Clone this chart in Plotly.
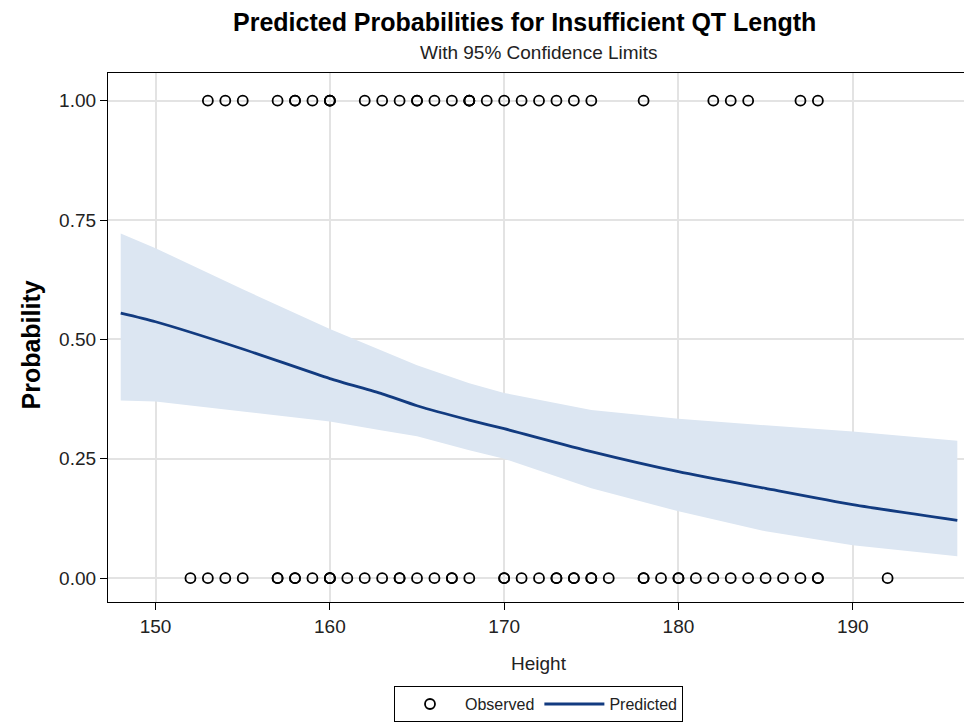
import plotly.graph_objects as go

# Observed outcomes (Height, event 1/0)
obs_height_1 = [153, 154, 155, 157, 158, 158, 159, 160, 160, 160, 162, 163, 164, 165, 165,
                166, 167, 168, 168, 168, 169, 170, 171, 172, 173, 174, 175, 178, 182, 183,
                184, 187, 188]
obs_height_0 = [152, 153, 154, 155, 157, 157, 158, 158, 159, 160, 160, 160, 161, 162, 163,
                164, 164, 165, 166, 167, 167, 168, 170, 170, 171, 172, 173, 173, 174, 174,
                175, 175, 176, 178, 178, 179, 180, 180, 181, 182, 183, 184, 185, 186, 187,
                188, 188, 192]

# Predicted probability curve and 95% confidence limits
fit_height = [148, 150, 155, 160, 163, 165, 168, 170, 175, 180, 185, 190, 196]
fit_pred   = [0.555, 0.537, 0.480, 0.418, 0.386, 0.361, 0.331, 0.313, 0.265, 0.223, 0.188, 0.154, 0.121]
fit_upper  = [0.722, 0.691, 0.605, 0.522, 0.476, 0.446, 0.408, 0.388, 0.352, 0.334, 0.320, 0.307, 0.288]
fit_lower  = [0.372, 0.370, 0.349, 0.328, 0.309, 0.297, 0.268, 0.250, 0.188, 0.140, 0.098, 0.069, 0.046]

x_ticks = [150, 160, 170, 180, 190]
y_ticks = [0.0, 0.25, 0.5, 0.75, 1.0]

FONT = "Liberation Sans, Arial, sans-serif"
BAND = "#dce6f2"
LINE = "#123b80"
TXT = "#222222"

fig = go.Figure()

fig.add_trace(go.Scatter(x=fit_height, y=fit_lower, mode="lines", line=dict(width=0, color=BAND),
                         showlegend=False, hoverinfo="skip"))
fig.add_trace(go.Scatter(x=fit_height, y=fit_upper, mode="lines", line=dict(width=0, color=BAND),
                         fill="tonexty", fillcolor=BAND, showlegend=False, hoverinfo="skip"))

fig.add_trace(go.Scatter(x=obs_height_1 + obs_height_0,
                         y=[1] * len(obs_height_1) + [0] * len(obs_height_0),
                         mode="markers", name="Observed",
                         marker=dict(symbol="circle-open", size=10, color="black",
                                     line=dict(width=1.8, color="black"))))

fig.add_trace(go.Scatter(x=fit_height, y=fit_pred, mode="lines", name="Predicted",
                         line=dict(color=LINE, width=2.8, shape="spline", smoothing=0.6)))

# page body adds an 8px offset, so the figure is sized/margined to compensate
fig.update_layout(
    width=964, height=717,
    margin=dict(l=100, r=3, t=65, b=121),
    paper_bgcolor="white", plot_bgcolor="white",
    font=dict(family=FONT, size=19, color=TXT),
    showlegend=True,
    legend=dict(orientation="h", x=0.5, xanchor="center", y=-0.227, yanchor="bottom",
                bordercolor="black", borderwidth=1, bgcolor="white",
                font=dict(family=FONT, size=16, color=TXT),
                traceorder="normal", itemwidth=60),
    annotations=[
        dict(text="<b>Predicted Probabilities for Insufficient QT Length</b>", xref="paper", yref="paper",
             x=0.484, y=1.0, yshift=51, xanchor="center", yanchor="middle", showarrow=False,
             font=dict(family=FONT, size=25, color="black")),
        dict(text="With 95% Confidence Limits", xref="paper", yref="paper",
             x=0.501, y=1.0, yshift=21, xanchor="center", yanchor="middle", showarrow=False,
             font=dict(family=FONT, size=19, color=TXT)),
        dict(text="<b>Probability</b>", xref="paper", yref="paper", textangle=-90,
             x=0.0, xshift=-78, y=0.5, yshift=-8, xanchor="center", yanchor="middle",
             showarrow=False, font=dict(family=FONT, size=25, color="black")),
    ],
)

fig.update_xaxes(range=[147.27, 196.67], tickvals=x_ticks, ticks="outside", ticklen=7,
                 tickcolor="black", showline=True, linecolor="black", linewidth=1.2, mirror=True,
                 showgrid=True, gridcolor="#e3e3e3", gridwidth=1.5, zeroline=False,
                 tickfont=dict(size=19, color=TXT),
                 title=dict(text="Height", font=dict(size=19, color=TXT), standoff=20))
fig.update_yaxes(range=[-0.05, 1.058], tickvals=y_ticks, tickformat=".2f", ticks="outside", ticklen=7,
                 tickcolor="black", showline=True, linecolor="black", linewidth=1.2, mirror=True,
                 showgrid=True, gridcolor="#e3e3e3", gridwidth=1.5, zeroline=False,
                 tickfont=dict(size=19, color=TXT))

fig.write_html("out.html")
